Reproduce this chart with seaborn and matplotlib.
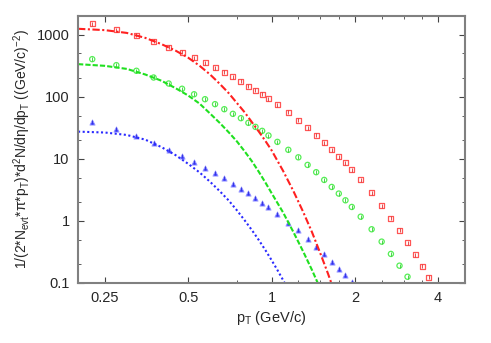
import matplotlib
matplotlib.use("Agg")
import matplotlib.pyplot as plt
import seaborn as sns
import pandas as pd
from matplotlib.ticker import FixedLocator, LogLocator, NullFormatter

# measured points (pT bin centres, GeV/c)
pt_bins = [0.225, 0.275, 0.325, 0.375, 0.425, 0.475, 0.525, 0.575, 0.625, 0.675,
           0.725, 0.775, 0.825, 0.875, 0.925, 0.975, 1.05, 1.15, 1.25, 1.35,
           1.45, 1.55, 1.65, 1.75, 1.85, 1.95, 2.1, 2.3, 2.5, 2.7,
           2.9, 3.1, 3.3, 3.5, 3.7]
red_vals = [1505, 1205, 975, 780, 625, 519, 425, 353, 294, 250,
            210, 177, 149, 128, 110, 94, 75, 56, 42, 31.6,
            24.1, 18.3, 14.1, 10.9, 8.6, 6.65, 4.64, 2.86, 1.77, 1.10,
            0.707, 0.442, 0.286, 0.186, 0.123]
green_vals = [405, 324, 263, 205, 164, 135, 110, 91.6, 76.2, 63.2,
              53.2, 45.3, 38.1, 32.8, 28.3, 23.8, 18.8, 14.0, 10.6, 8.0,
              6.1, 4.58, 3.53, 2.76, 2.15, 1.68, 1.17, 0.734, 0.464, 0.294,
              0.190, 0.126]
blue_vals = [39.0, 30.8, 23.8, 18.3, 14.0, 11.3, 8.95, 7.25, 5.87, 4.88,
             3.95, 3.28, 2.79, 2.35, 1.98, 1.66, 1.30, 0.94, 0.716, 0.519,
             0.386, 0.290, 0.218, 0.170, 0.133, 0.104]

# fit curves
red_fit_pt = [0.2, 0.25, 0.3, 0.35, 0.4, 0.45, 0.5, 0.55, 0.6, 0.65, 0.7, 0.75,
              0.8, 0.85, 0.9, 0.95, 1.0, 1.1, 1.2, 1.3, 1.4, 1.5, 1.6, 1.7]
red_fit = [1250, 1189, 1072, 891, 708, 556, 427, 316, 229, 162, 115, 79.4,
           56.2, 38.9, 27.5, 19.5, 13.8, 6.46, 3.02, 1.41, 0.661, 0.302, 0.141, 0.066]
green_fit_pt = [0.2, 0.25, 0.3, 0.35, 0.4, 0.45, 0.5, 0.55, 0.6, 0.65, 0.7, 0.75,
                0.8, 0.85, 0.9, 0.95, 1.0, 1.1, 1.2, 1.3, 1.4, 1.5]
green_fit = [336.5, 316, 282, 229, 182, 138, 105, 77.6, 53.7, 38.0, 26.9, 19.1,
             13.2, 9.12, 6.17, 4.17, 2.82, 1.38, 0.66, 0.324, 0.162, 0.081]
blue_fit_pt = [0.2, 0.25, 0.3, 0.35, 0.4, 0.45, 0.5, 0.55, 0.6, 0.65, 0.7, 0.75,
               0.8, 0.85, 0.9, 0.95, 1.0, 1.05, 1.1, 1.15]
blue_fit = [27.5, 26.6, 24.3, 20.4, 15.5, 11.5, 8.32, 6.03, 4.27, 3.02, 2.14, 1.48,
            1.02, 0.708, 0.49, 0.339, 0.234, 0.162, 0.112, 0.0776]

x_ticks = [0.25, 0.5, 1, 2, 4]
x_labels = ["0.25", "0.5", "1", "2", "4"]
y_ticks = [0.1, 1, 10, 100, 1000]
y_labels = ["0.1", "1", "10", "100", "1000"]

sns.set_style("ticks")
plt.rcParams["font.family"] = ["Liberation Sans", "DejaVu Sans"]
plt.rcParams["mathtext.default"] = "regular"

fig = plt.figure(figsize=(4.91, 3.43), dpi=100)
ax = fig.add_axes([0.159, 0.175, 0.788, 0.778])

RED, GREEN, BLUE = "#ff2020", "#20e020", "#2a2aff"

# fits
sns.lineplot(x=red_fit_pt, y=red_fit, ax=ax, color=RED, lw=1.5,
             linestyle=(0, (3.5, 1.2, 1, 1.2)))
sns.lineplot(x=green_fit_pt, y=green_fit, ax=ax, color=GREEN, lw=1.5,
             linestyle=(0, (2.5, 1)))
sns.lineplot(x=blue_fit_pt, y=blue_fit, ax=ax, color=BLUE, lw=1.5,
             linestyle=(0, (1, 1.2)))

# data points
red_df = pd.DataFrame({"pt": pt_bins[:len(red_vals)], "v": red_vals})
green_df = pd.DataFrame({"pt": pt_bins[:len(green_vals)], "v": green_vals})
blue_df = pd.DataFrame({"pt": pt_bins[:len(blue_vals)], "v": blue_vals})

sns.scatterplot(data=red_df, x="pt", y="v", ax=ax, marker="s", s=13,
                facecolors="none", edgecolor="#ff5555", linewidth=0.9)
sns.scatterplot(data=green_df, x="pt", y="v", ax=ax, marker="o", s=14,
                facecolors="none", edgecolor="#55ee55", linewidth=0.9)
sns.scatterplot(data=blue_df, x="pt", y="v", ax=ax, marker="^", s=14,
                color="#4444ff", edgecolor="#9999ff", linewidth=0.6)
# small error bar ticks inside markers
for df, c in [(red_df, "#dd3333"), (green_df, "#33cc33"), (blue_df, "#3333dd")]:
    sns.scatterplot(data=df, x="pt", y="v", ax=ax, marker="|", s=6,
                    color=c, linewidth=0.6)

ax.set_xscale("log", base=2)
ax.set_yscale("log")
ax.set_xlim(0.2, 5)
ax.set_ylim(0.1, 2000)

ax.xaxis.set_major_locator(FixedLocator(x_ticks))
ax.set_xticklabels(x_labels)
ax.xaxis.set_minor_locator(FixedLocator([0.75, 1.25, 1.5, 1.75, 2.5, 3, 3.5]))
ax.xaxis.set_minor_formatter(NullFormatter())
ax.yaxis.set_major_locator(FixedLocator(y_ticks))
ax.set_yticklabels(y_labels)
ax.yaxis.set_minor_locator(LogLocator(base=10, subs=(2, 5)))
ax.yaxis.set_minor_formatter(NullFormatter())

ax.tick_params(which="both", direction="in", top=True, right=True,
               labelsize=10.5, color="#444444", pad=6)
ax.tick_params(which="major", length=4, width=0.8)
ax.tick_params(which="minor", length=2.5, width=0.6)
for sp in ax.spines.values():
    sp.set_color("#808080")
    sp.set_linewidth(1.5)

ax.set_xlabel("p$_T$ (GeV/c)", fontsize=10.5, labelpad=3)
ax.set_ylabel(r"1/(2*N$_{evt}$*$\pi$*p$_T$)*d$^2$N/d$\eta$/dp$_T$ ((GeV/c)$^{-2}$)",
              fontsize=10, labelpad=3)

fig.savefig("out.png", dpi=100)
